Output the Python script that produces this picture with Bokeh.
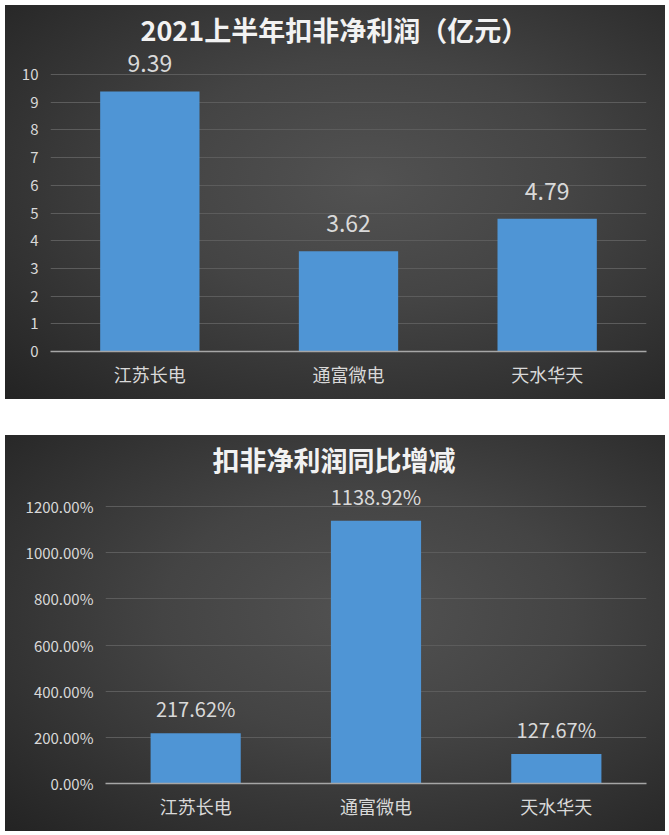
from bokeh.plotting import figure
from bokeh.models import ColumnDataSource, FixedTicker, PrintfTickFormatter, LabelSet
from bokeh.core.properties import value
from bokeh.layouts import column
from bokeh.embed import file_html
from bokeh.resources import INLINE

# ---- data ----
companies = ["江苏长电", "通富微电", "天水华天"]
profit_h1_2021 = [9.39, 3.62, 4.79]          # 亿元
yoy_change_pct = [217.62, 1138.92, 127.67]    # %
title1 = "2021上半年扣非净利润（亿元）"
title2 = "扣非净利润同比增减"
y1_ticks = [0, 1, 2, 3, 4, 5, 6, 7, 8, 9, 10]
y2_ticks = [0, 200, 400, 600, 800, 1000, 1200]

FONT = "Noto Sans CJK SC"
BAR = "#4f95d5"
TXT = "#d9d9d9"
BG_CSS = "radial-gradient(ellipse at 55% 45%, #525252 0%, #444444 40%, #2e2e2e 80%, #232323 100%)"


def make_chart(title, title_offset, values, labels, label_size, label_offset,
               ticks, y_end, w, h, left, bottom, tick_fmt=None):
    src = ColumnDataSource(dict(cat=companies, val=values, lab=labels))
    p = figure(x_range=companies, y_range=(0, y_end), width=w, height=h,
               output_backend="svg", toolbar_location=None,
               min_border_left=left, min_border_right=19,
               min_border_top=45, min_border_bottom=bottom)
    p.frame_align = False
    p.styles = {"background": BG_CSS}
    p.background_fill_alpha = 0
    p.border_fill_alpha = 0
    p.outline_line_color = None

    p.vbar(x="cat", top="val", width=0.5, source=src, fill_color=BAR, line_color=None)
    p.add_layout(LabelSet(x="cat", y="val", text="lab", source=src,
                          text_align="center", text_baseline="bottom", y_offset=label_offset,
                          text_color=TXT, text_font_size=label_size, text_font=value(FONT)))

    p.title.text = title
    p.title.align = "left"
    p.title.offset = title_offset
    p.title.text_color = "#f2f2f2"
    p.title.text_font = FONT
    p.title.text_font_size = "27px"
    p.title.text_font_style = "bold"
    p.title.standoff = 3

    p.xgrid.grid_line_color = None
    p.ygrid.grid_line_color = "#5c5c5c"
    p.ygrid.grid_line_width = 1

    p.yaxis.ticker = FixedTicker(ticks=ticks)
    if tick_fmt is not None:
        p.yaxis.formatter = tick_fmt
    p.yaxis.axis_line_color = None
    p.yaxis.major_tick_line_color = None
    p.yaxis.minor_tick_line_color = None
    p.yaxis.major_label_text_color = TXT
    p.yaxis.major_label_text_font = FONT
    p.yaxis.major_label_text_font_size = "15px"
    p.yaxis.major_label_standoff = 6

    p.xaxis.axis_line_color = "#a6a6a6"
    p.xaxis.axis_line_width = 1.5
    p.xaxis.major_tick_line_color = None
    p.xaxis.minor_tick_line_color = None
    p.xaxis.major_label_text_color = TXT
    p.xaxis.major_label_text_font = FONT
    p.xaxis.major_label_text_font_size = "18px"
    p.xaxis.major_label_standoff = 3
    return p


p1 = make_chart(title1, 90, profit_h1_2021, [f"{v:.2f}" for v in profit_h1_2021],
                "23px", 19, y1_ticks, 10.87, 660, 394, 45, 48)
p2 = make_chart(title2, 107, yoy_change_pct, [f"{v:.2f}%" for v in yoy_change_pct],
                "20px", 10, y2_ticks, 1313, 660, 396, 100, 48,
                tick_fmt=PrintfTickFormatter(format="%.2f%%"))

layout = column(p1, p2, spacing=36, margin=(5, 0, 0, 5))
open("out.html", "w").write(file_html(layout, INLINE))
